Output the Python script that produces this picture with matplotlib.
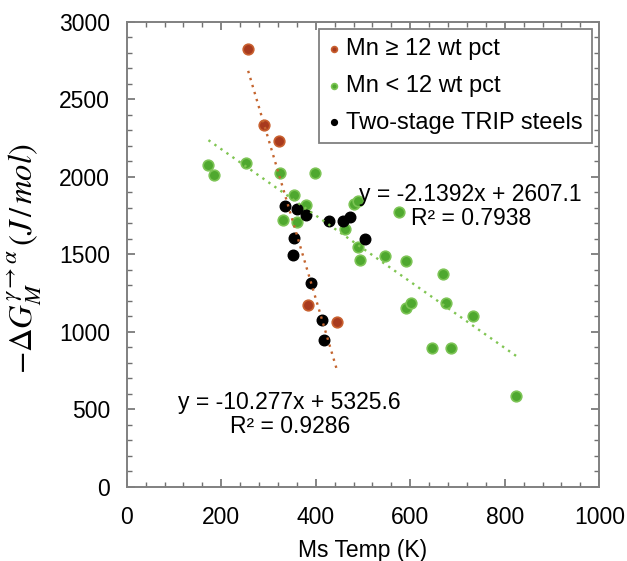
import numpy as np
import matplotlib.pyplot as plt
from matplotlib.ticker import MultipleLocator

# Configuration
plt.rcParams['font.family'] = ['Liberation Sans', 'DejaVu Sans']
plt.rcParams['mathtext.fontset'] = 'stix'
output_file = 'out.png'

# Mn >= 12 wt pct
mn_high_temp = [257, 290, 322, 384, 446]
mn_high_dg = [2826, 2333, 2232, 1173, 1065]

# Mn < 12 wt pct
mn_low_temp = [173, 185, 252, 324, 398, 355, 379, 331, 360, 480, 490, 576, 461,
               489, 493, 546, 590, 669, 592, 601, 675, 732, 647, 686, 824]
mn_low_dg = [2076, 2014, 2088, 2027, 2025, 1881, 1819, 1722, 1711, 1825, 1845, 1771, 1663,
             1545, 1464, 1489, 1458, 1373, 1152, 1184, 1184, 1104, 893, 893, 587]

# Two-stage TRIP steels
trip_temp = [335, 360, 380, 429, 457, 473, 354, 351, 505, 390, 414, 417]
trip_dg = [1812, 1791, 1757, 1713, 1718, 1743, 1607, 1496, 1597, 1313, 1076, 948]

# Linear trendlines (slope, intercept, R^2)
high_fit = (-10.277, 5325.6, 0.9286)
low_fit = (-2.1392, 2607.1, 0.7938)

red_face, red_edge = '#a83a1e', '#c8602f'
green_face, green_edge = '#4fa82f', '#7cc455'
red_line, green_line = '#c4652f', '#80c552'

fig = plt.figure(figsize=(6.27, 5.61), dpi=100)
ax = fig.add_axes([0.2021, 0.1324, 0.7537, 0.8284])

marker_size = 58
ax.scatter(mn_high_temp, mn_high_dg, s=marker_size, c=red_face, edgecolors=red_edge,
           linewidths=1.2, zorder=2, label='Mn ≥ 12 wt pct')
ax.scatter(mn_low_temp, mn_low_dg, s=marker_size, c=green_face, edgecolors=green_edge,
           linewidths=1.2, zorder=2, label='Mn < 12 wt pct')
ax.scatter(trip_temp, trip_dg, s=marker_size, c='black', edgecolors='black',
           linewidths=1.0, zorder=2.5, label='Two-stage TRIP steels')

# Dotted trendlines over the range of each series
def trend(xs, fit, color):
    xx = np.array([min(xs), max(xs)])
    ax.plot(xx, fit[0] * xx + fit[1], color=color, lw=1.7,
            linestyle=(0, (1, 2.1)), zorder=3)

trend(mn_high_temp, high_fit, red_line)
trend(mn_low_temp, low_fit, green_line)

ax.text(728, 1808, 'y = %sx + %s\nR² = %s' % (low_fit[0], low_fit[1], low_fit[2]),
        ha='center', va='center', fontsize=16.5, linespacing=1.05, zorder=4)
ax.text(345, 469, 'y = %sx + %s\nR² = %s' % (high_fit[0], high_fit[1], high_fit[2]),
        ha='center', va='center', fontsize=16.5, linespacing=1.05, zorder=4)

# Axes limits and ticks
ax.set_xlim(0, 1000)
ax.set_ylim(0, 3000)
ax.xaxis.set_major_locator(MultipleLocator(200))
ax.xaxis.set_minor_locator(MultipleLocator(40))
ax.yaxis.set_major_locator(MultipleLocator(500))
ax.yaxis.set_minor_locator(MultipleLocator(100))
ax.tick_params(which='both', direction='in', top=True, right=True, color='#707070')
ax.tick_params(which='major', length=5.5, width=1.2, labelsize=16.5)
ax.tick_params(which='minor', length=3.5, width=1.0)
ax.tick_params(axis='x', which='major', pad=14)
ax.tick_params(axis='y', which='major', pad=12)
for spine in ax.spines.values():
    spine.set_color('#808080')
    spine.set_linewidth(1.4)

ax.set_xlabel('Ms Temp (K)', fontsize=16.5, labelpad=7)
ax.set_ylabel(r'$-\Delta G_M^{\gamma\rightarrow\alpha}\,(J\,/\,mol)$', fontsize=23.5)
ax.yaxis.set_label_coords(-0.175, 0.49)

leg = ax.legend(loc='upper right', bbox_to_anchor=(0.985, 0.985), fontsize=17,
                markerscale=0.55, handlelength=0.45, handletextpad=0.3,
                labelspacing=0.62, borderpad=0.4, borderaxespad=0, fancybox=False,
                framealpha=1, edgecolor='#808080')
leg.get_frame().set_linewidth(1.3)

fig.savefig(output_file, dpi=100)
plt.close(fig)
